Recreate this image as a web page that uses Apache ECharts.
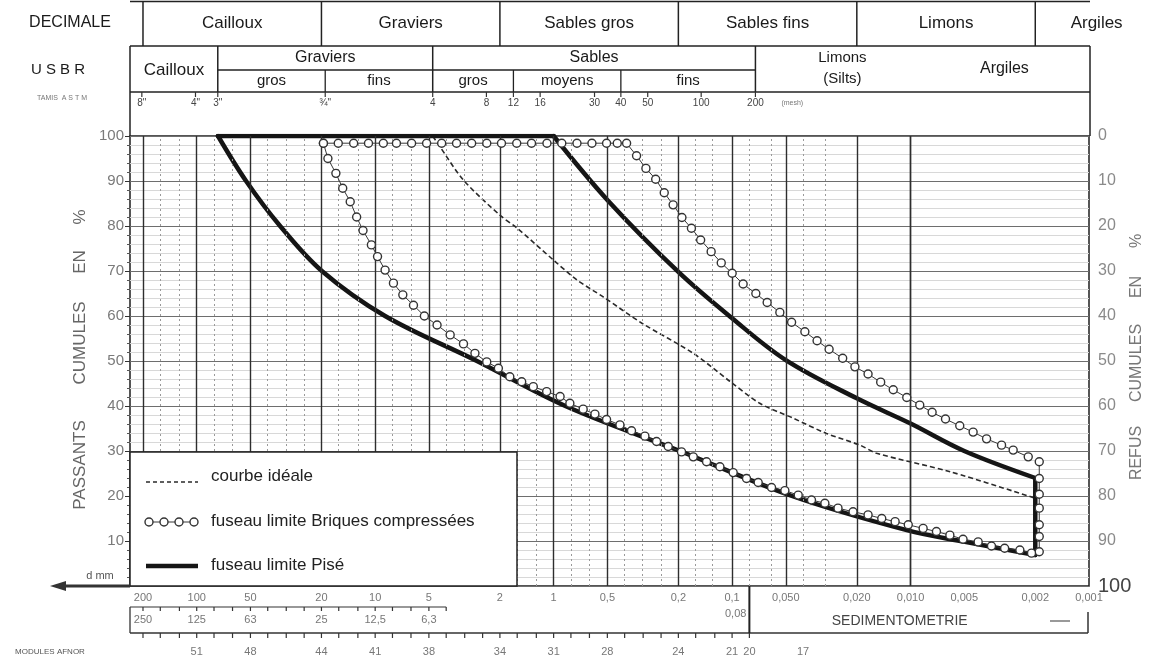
<!DOCTYPE html>
<html lang="fr">
<head>
<meta charset="utf-8">
<title>Fuseaux granulométriques</title>
<script src="https://cdn.jsdelivr.net/npm/echarts@6.0.0/dist/echarts.min.js"></script>
<style>
html,body{margin:0;padding:0;background:#fff;}
#chart{width:1158px;height:663px;}
</style>
</head>
<body>
<div id="chart"></div>
<script>
// ===== Données : diamètre d (mm) / passants cumulés (%) =====
// courbe idéale (tirets)
const idealD = [4.76, 4.4, 3.2, 2.0, 1.6, 1.0, 0.74, 0.53, 0.32, 0.165, 0.103, 0.07, 0.0455, 0.0296, 0.0192, 0.0155, 0.006, 0.002];
const idealP = [100, 98, 90.2, 82.4, 79.5, 72.4, 68, 64.3, 58.4, 51.7, 45.5, 40.6, 37.3, 33.9, 31.3, 29.5, 25.4, 19.5];

// fuseau limite Briques compressées : limite haute (palier puis descente)
const briqueHautD = [19.5, 16.1, 13.2, 10.9, 9.0, 7.6, 6.25, 5.15, 4.24, 3.5, 2.88, 2.37, 1.96, 1.61, 1.33, 1.09, 0.90, 0.74, 0.61, 0.505, 0.44, 0.39,
  0.343, 0.304, 0.268, 0.240, 0.214, 0.191, 0.169, 0.150, 0.131, 0.115, 0.0999, 0.0867, 0.0736, 0.0636, 0.0540, 0.0464, 0.0391, 0.0334, 0.0286, 0.0240,
  0.0205, 0.0173, 0.0147, 0.0125, 0.0105, 0.00888, 0.00757, 0.00637, 0.0053, 0.00446, 0.00375, 0.00309, 0.00266, 0.00219];
const briqueHautP = [98.4, 98.4, 98.4, 98.4, 98.4, 98.4, 98.4, 98.4, 98.4, 98.4, 98.4, 98.4, 98.4, 98.4, 98.4, 98.4, 98.4, 98.4, 98.4, 98.4, 98.4, 98.4,
  95.6, 92.8, 90.4, 87.4, 84.7, 81.9, 79.5, 76.9, 74.3, 71.8, 69.5, 67.1, 65, 63, 60.8, 58.6, 56.5, 54.5, 52.6, 50.6,
  48.7, 47.1, 45.3, 43.6, 41.9, 40.2, 38.6, 37.1, 35.6, 34.2, 32.7, 31.3, 30.2, 28.7];
// fermeture verticale à 2 µm
const briqueFinD = [0.0019, 0.0019, 0.0019, 0.0019, 0.0019, 0.0019, 0.0019];
const briqueFinP = [27.6, 23.9, 20.4, 17.3, 13.6, 11.0, 7.6];
// limite basse
const briqueBasD = [19.5, 18.4, 16.6, 15.2, 13.8, 12.7, 11.7, 10.5, 9.7, 8.8, 7.9, 7.0, 6.1, 5.3, 4.5, 3.8, 3.2, 2.76, 2.37, 2.04,
  1.76, 1.51, 1.30, 1.094, 0.92, 0.811, 0.683, 0.587, 0.505, 0.425, 0.366, 0.308, 0.265, 0.228, 0.192, 0.165, 0.139, 0.117, 0.0986, 0.083,
  0.0714, 0.0601, 0.0506, 0.0426, 0.0359, 0.0302, 0.0255, 0.021, 0.0173, 0.0145, 0.0122, 0.0103, 0.0085, 0.00716, 0.00602, 0.00508, 0.00418, 0.00352, 0.00297, 0.00244, 0.0021];
const briqueBasP = [98.4, 95, 91.7, 88.4, 85.4, 82, 79, 75.8, 73.2, 70.2, 67.3, 64.7, 62.4, 60, 58, 55.8, 53.8, 51.7, 49.8, 48.4,
  46.5, 45.4, 44.3, 43.2, 42.1, 40.6, 39.3, 38.2, 37.0, 35.8, 34.5, 33.3, 32.1, 31.0, 29.8, 28.7, 27.6, 26.5, 25.2, 23.9,
  23.0, 21.9, 21.2, 20.2, 19.1, 18.4, 17.3, 16.5, 15.8, 15.0, 14.3, 13.6, 12.8, 12.1, 11.3, 10.4, 9.8, 8.9, 8.4, 8.0, 7.3];

// fuseau limite Pisé
const piseBasD = [76, 52.9, 34.1, 19.9, 8.8, 2.69, 0.86, 0.196, 0.0462, 0.0105, 0.00495, 0.002];
const piseBasP = [100, 90, 80, 70, 60, 50, 40, 30, 20, 12.4, 9.8, 6.9];
const piseHautD = [1, 0.5, 0.2, 0.1, 0.05, 0.02, 0.01, 0.005, 0.002];
const piseHautP = [100, 85.8, 69.8, 59.5, 50.2, 41.7, 36.1, 30, 24];
const piseSommetD = [76, 1];
const piseSommetP = [100, 100];
const piseFinD = [0.002, 0.002];
const piseFinP = [24, 6.9];

// ===== Axes, grilles, échelles annexes =====
const xMinD = 0.001, xMaxD = 236.5;
const gridMajorD = [200, 100, 50, 20, 10, 5, 2, 1, 0.5, 0.2, 0.1, 0.05, 0.02, 0.01, 0.005, 0.002];
const gridMinorD = [160, 125, 80, 63, 40, 31.5, 25, 16, 12.5, 8, 6.3, 4, 3.15, 2.5, 1.6, 1.25, 0.8, 0.63, 0.4, 0.315, 0.25, 0.16, 0.125,
  0.08, 0.063, 0.04, 0.0315, 0.025, 0.016, 0.0125, 0.008, 0.0063, 0.004, 0.00315, 0.0025, 0.0016, 0.00125];

const decimaleD = [200, 20, 2, 0.2, 0.02, 0.002];
const decimaleNoms = ['Cailloux', 'Graviers', 'Sables gros', 'Sables fins', 'Limons', 'Argiles'];
const usbrGrandsD = [76.2, 4.76, 0.074];
const usbrSousD = [19.05, 1.68, 0.42];
const astmD = [203, 101.6, 76.2, 19.05, 4.76, 2.38, 1.68, 1.19, 0.59, 0.42, 0.297, 0.149, 0.074];
const astmLabels = ['8"', '4"', '3"', '¾"', '4', '8', '12', '16', '30', '40', '50', '100', '200'];
const mmD = [200, 100, 50, 20, 10, 5, 2, 1, 0.5, 0.2, 0.1, 0.08, 0.05, 0.02, 0.01, 0.005, 0.002, 0.001];
const mmLabels = ['200', '100', '50', '20', '10', '5', '2', '1', '0,5', '0,2', '0,1', '0,08', '0,050', '0,020', '0,010', '0,005', '0,002', '0,001'];
const passoireD = [200, 100, 50, 20, 10, 5];
const passoireLabels = ['250', '125', '63', '25', '12,5', '6,3'];
const moduleD = [100, 50, 20, 10, 5, 2, 1, 0.5, 0.2, 0.1, 0.08, 0.04];
const moduleLabels = ['51', '48', '44', '41', '38', '34', '31', '28', '24', '21', '20', '17'];

const zip = (a, b) => a.map((v, i) => [v, b[i]]);
const FONT = '"Liberation Sans", Arial, Helvetica, sans-serif';

const chart = echarts.init(document.getElementById('chart'), null, {renderer: 'canvas'});

const brickStyle = {
  type: 'line', symbol: 'circle', symbolSize: 8, smooth: false, z: 5,
  lineStyle: {color: '#383838', width: 1},
  itemStyle: {color: '#ffffff', borderColor: '#333333', borderWidth: 1.4}
};
const piseStyle = {
  type: 'line', symbol: 'none', z: 4,
  lineStyle: {color: '#151515', width: 4.5, cap: 'round', join: 'round'}
};

const option = {
  animation: false,
  backgroundColor: '#ffffff',
  textStyle: {fontFamily: FONT},
  grid: {left: 130, right: 69, top: 136, bottom: 77, show: true, borderColor: '#1e1e1e', borderWidth: 1.5,
    backgroundColor: '#ffffff', containLabel: false, outerBoundsMode: 'none'},
  xAxis: {
    type: 'log', logBase: 10, min: xMinD, max: xMaxD, inverse: true,
    axisLine: {show: false}, axisTick: {show: false}, axisLabel: {show: false},
    splitLine: {show: false}, minorTick: {show: false}, minorSplitLine: {show: false}
  },
  yAxis: [{
    type: 'value', min: 0, max: 100, interval: 10, position: 'left',
    axisLine: {show: false},
    axisTick: {show: true, length: 5, lineStyle: {color: '#333'}},
    minorTick: {show: true, splitNumber: 5, length: 3, lineStyle: {color: '#555'}},
    splitLine: {show: true, lineStyle: {color: '#6e6e6e', width: 1}},
    minorSplitLine: {show: true, lineStyle: {color: '#d8d8d8', width: 1}},
    axisLabel: {color: '#7a7a7a', fontSize: 15, margin: 6, fontFamily: FONT,
      formatter: v => (v === 0 ? '' : String(v))}
  }, {
    type: 'value', min: 0, max: 100, interval: 10, position: 'right', inverse: true,
    axisLine: {show: false}, axisTick: {show: false}, splitLine: {show: false},
    axisLabel: {color: '#8a8a8a', fontSize: 16, margin: 9, fontFamily: FONT,
      formatter: v => (v === 100 ? '{b|100}' : String(v)),
      rich: {b: {fontSize: 20, color: '#444', fontFamily: FONT}}}
  }],
  series: [
    {
      type: 'line', name: 'grille', data: [], z: 1, silent: true, symbol: 'none',
      markLine: {
        silent: true, symbol: ['none', 'none'], label: {show: false}, animation: false,
        emphasis: {disabled: true},
        data: gridMinorD.map(v => ({xAxis: v, lineStyle: {color: '#9a9a9a', width: 1, type: [2, 3]}}))
          .concat(gridMajorD.map(v => ({xAxis: v, lineStyle: {color: '#2e2e2e', width: 1.4, type: 'solid'}})))
      }
    },
    {
      type: 'line', name: 'courbe idéale', data: zip(idealD, idealP), symbol: 'none', smooth: 0.3, z: 3,
      lineStyle: {color: '#2a2a2a', width: 1.6, type: [5, 3]}
    },
    Object.assign({name: 'fuseau limite Pisé', data: zip(piseBasD, piseBasP), smooth: 0.35}, piseStyle),
    Object.assign({name: 'fuseau limite Pisé', data: zip(piseHautD, piseHautP), smooth: 0.35}, piseStyle),
    Object.assign({name: 'fuseau limite Pisé', data: zip(piseSommetD, piseSommetP)}, piseStyle),
    Object.assign({name: 'fuseau limite Pisé', data: zip(piseFinD, piseFinP)}, piseStyle),
    Object.assign({name: 'fuseau limite Briques compressées', data: zip(briqueHautD, briqueHautP)}, brickStyle),
    Object.assign({name: 'fuseau limite Briques compressées', data: zip(briqueFinD, briqueFinP)}, brickStyle),
    Object.assign({name: 'fuseau limite Briques compressées', data: zip(briqueBasD, briqueBasP)}, brickStyle)
  ]
};
chart.setOption(option);

// ===== Éléments annexes placés avec l'échelle de l'axe =====
const X = d => chart.convertToPixel({xAxisIndex: 0}, d);
const G = [];
function L(x1, y1, x2, y2, w, c, dash) {
  const st = {stroke: c || '#222', lineWidth: w || 1.2};
  if (dash) st.lineDash = dash;
  G.push({type: 'line', silent: true, z: 100, shape: {x1, y1, x2, y2}, style: st});
}
function T(x, y, s, size, c, align, rot) {
  G.push({type: 'text', silent: true, z: 101, x, y, rotation: rot || 0,
    style: {text: s, font: size + 'px ' + FONT, fill: c || '#222',
      textAlign: align || 'center', textVerticalAlign: 'middle'}});
}
const xL = 130, xR = 1090, yTop = 136, yBot = 586;

// --- ligne DECIMALE ---
L(xL, 1.5, xR, 1.5, 1.5);
decimaleD.forEach(d => L(X(d), 1.5, X(d), 46, 1.5));
L(xL, 46, xR, 46, 1.5);
decimaleNoms.forEach((n, i) => {
  const a = X(decimaleD[i]);
  const b = i < decimaleD.length - 1 ? X(decimaleD[i + 1]) : 1158;
  T((a + b) / 2, 23, n, 17, '#1a1a1a');
});
T(70, 23, 'DECIMALE', 16, '#1a1a1a');

// --- ligne USBR ---
L(xL, 46, xL, yTop, 1.5);
L(xR, 46, xR, yTop, 1.5);
L(xL, 92, xR, 92, 1.5);
usbrGrandsD.forEach(d => L(X(d), 46, X(d), 92, 1.5));
usbrSousD.forEach(d => L(X(d), 70, X(d), 92, 1.3));
L(X(76.2), 70, X(0.074), 70, 1.3);
T((xL + X(76.2)) / 2, 70, 'Cailloux', 17, '#1a1a1a');
T((X(76.2) + X(4.76)) / 2, 58, 'Graviers', 16, '#1a1a1a');
T((X(76.2) + X(19.05)) / 2, 81, 'gros', 15, '#1a1a1a');
T((X(19.05) + X(4.76)) / 2, 81, 'fins', 15, '#1a1a1a');
T((X(4.76) + X(0.074)) / 2, 58, 'Sables', 16, '#1a1a1a');
T((X(4.76) + X(1.68)) / 2, 81, 'gros', 15, '#1a1a1a');
T((X(1.68) + X(0.42)) / 2, 81, 'moyens', 15, '#1a1a1a');
T((X(0.42) + X(0.074)) / 2, 81, 'fins', 15, '#1a1a1a');
T(X(0.074) + 87, 58, 'Limons', 15, '#1a1a1a');
T(X(0.074) + 87, 79, '(Silts)', 15, '#1a1a1a');
T(X(0.074) + 249, 69, 'Argiles', 16, '#1a1a1a');
T(58, 70, 'U S B R', 15, '#1a1a1a');

// --- tamis ASTM ---
astmD.forEach((d, i) => {
  L(X(d), 92, X(d), 97, 1.2, '#333');
  T(X(d), 103, astmLabels[i], 10, '#444');
});
T(X(0.074) + 26, 103, '(mesh)', 7, '#777', 'left');
T(62, 98, 'TAMIS  A S T M', 7, '#777');

// --- axes latéraux : titres ---
T(80, 465, 'PASSANTS', 17, '#666', 'center', Math.PI / 2);
T(80, 343, 'CUMULES', 17, '#666', 'center', Math.PI / 2);
T(80, 262, 'EN', 17, '#666', 'center', Math.PI / 2);
T(80, 217, '%', 17, '#666', 'center', Math.PI / 2);
T(1137, 453, 'REFUS', 16, '#777', 'center', Math.PI / 2);
T(1137, 363, 'CUMULES', 16, '#777', 'center', Math.PI / 2);
T(1137, 287, 'EN', 16, '#777', 'center', Math.PI / 2);
T(1137, 241, '%', 16, '#777', 'center', Math.PI / 2);

// --- légende ---
G.push({type: 'rect', silent: true, z: 100, shape: {x: xL, y: 452, width: 387, height: yBot - 452},
  style: {fill: '#ffffff', stroke: '#222', lineWidth: 1.5}});
L(146, 482, 198, 482, 1.6, '#2a2a2a', [4, 3]);
T(211, 476, 'courbe idéale', 17, '#222', 'left');
L(149, 522, 194, 522, 1, '#383838');
[149, 164, 179, 194].forEach(cx => G.push({type: 'circle', silent: true, z: 102, shape: {cx, cy: 522, r: 4},
  style: {fill: '#fff', stroke: '#333', lineWidth: 1.4}}));
T(211, 521, 'fuseau limite Briques compressées', 17, '#222', 'left');
L(146, 566, 198, 566, 4.5, '#151515');
T(211, 565, 'fuseau limite Pisé', 17, '#222', 'left');

// --- échelle d mm ---
L(62, yBot, xL, yBot, 3, '#333');
G.push({type: 'polygon', silent: true, z: 100, shape: {points: [[50, yBot], [66, yBot - 5], [66, yBot + 5]]}, style: {fill: '#333'}});
T(100, 576, 'd mm', 11, '#555');
mmD.forEach((d, i) => {
  if (d === 0.08) T(X(d) - 3, 614, mmLabels[i], 11, '#777', 'right');
  else T(X(d), 598, mmLabels[i], 11, '#777');
});
const allR10 = gridMajorD.concat(gridMinorD);
// passoires
L(xL, 607, X(4), 607, 1.2, '#333');
allR10.filter(d => d <= 200 && d >= 4).forEach(d => L(X(d), 607, X(d), 611, 1.2, '#333'));
L(xL, 607, xL, 633, 1.3, '#333');
passoireD.forEach((d, i) => T(X(d), 620, passoireLabels[i], 11, '#777'));
// modules AFNOR + sédimentométrie
L(xL, 633, 1088, 633, 1.3, '#333');
allR10.filter(d => d <= 200 && d >= 0.08).forEach(d => L(X(d), 633, X(d), 638, 1.2, '#333'));
L(X(0.08), yBot, X(0.08), 633, 2, '#222');
L(1088, 612, 1088, 633, 1.5, '#333');
L(1050, 621, 1070, 621, 1.2, '#555');
T((X(0.08) + 1050) / 2, 621, 'SEDIMENTOMETRIE', 14, '#444');
T(50, 652, 'MODULES AFNOR', 8, '#555');
moduleD.forEach((d, i) => T(X(d), 652, moduleLabels[i], 11, '#777'));

chart.setOption({graphic: G});
</script>
</body>
</html>
